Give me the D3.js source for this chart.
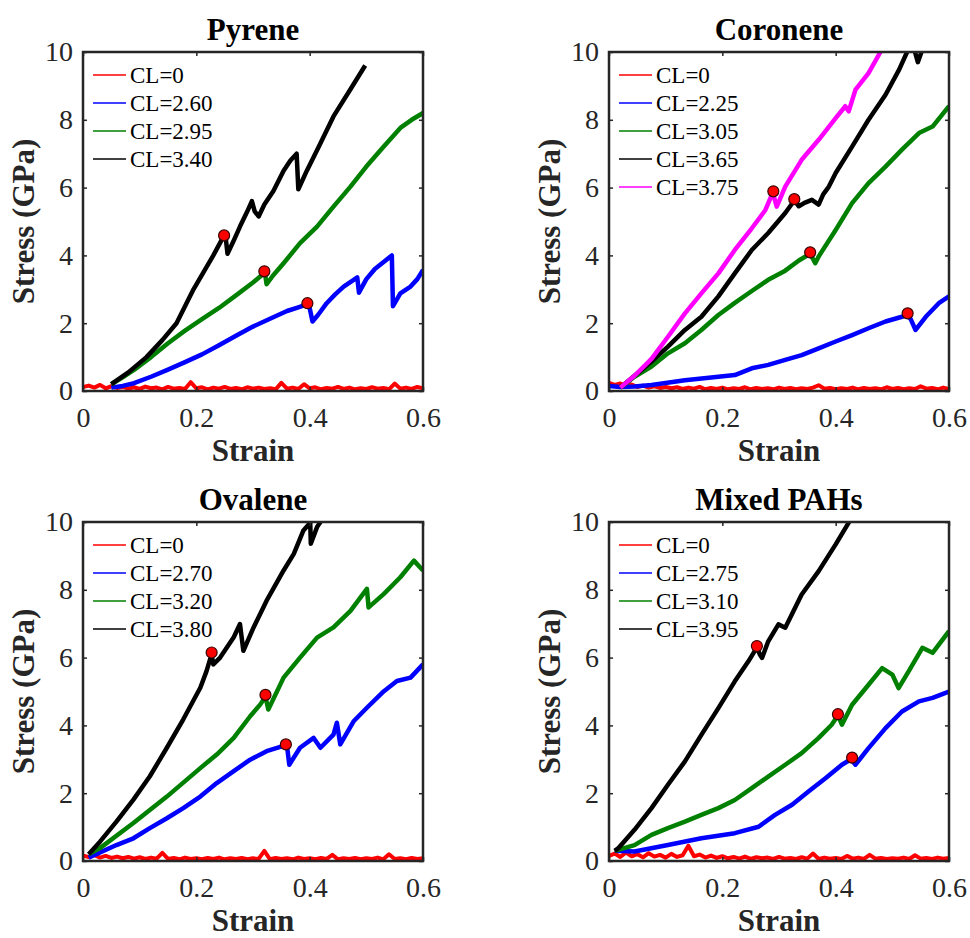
<!DOCTYPE html>
<html>
<head>
<meta charset="utf-8">
<script src="https://cdn.jsdelivr.net/npm/d3@7/dist/d3.min.js"></script>
<style>
  html, body { margin: 0; padding: 0; background: #fff; }
  svg { display: block; }
</style>
</head>
<body>
<svg id="chart" width="970" height="938"></svg>
<script>
// ---- Axis ticks ----
const strainTicks = [0, 0.2, 0.4, 0.6];
const stressTicks = [0, 2, 4, 6, 8, 10];

// ---- Panel titles and legend labels ----
const panelTitles = ["Pyrene", "Coronene", "Ovalene", "Mixed PAHs"];
const pyreneLabels   = ["CL=0", "CL=2.60", "CL=2.95", "CL=3.40"];
const coroneneLabels = ["CL=0", "CL=2.25", "CL=3.05", "CL=3.65", "CL=3.75"];
const ovaleneLabels  = ["CL=0", "CL=2.70", "CL=3.20", "CL=3.80"];
const mixedLabels    = ["CL=0", "CL=2.75", "CL=3.10", "CL=3.95"];

// ---- Unloaded reference (CL=0): stress sampled every 0.01 strain ----
const pyreneCL0 = [0.12,0.16,0.10,0.18,0.08,0.14,0.09,0.12,0.07,0.11,0.06,0.13,0.08,0.10,0.05,0.12,0.07,0.09,0.06,0.26,0.08,0.11,0.05,0.10,0.07,0.12,0.06,0.09,0.05,0.11,0.07,0.10,0.06,0.08,0.05,0.24,0.07,0.10,0.06,0.20,0.08,0.11,0.05,0.09,0.07,0.12,0.06,0.10,0.05,0.08,0.06,0.11,0.07,0.09,0.05,0.22,0.07,0.10,0.06,0.12,0.08];
const coroneneCL0 = [0.24,0.18,0.22,0.15,0.19,0.12,0.16,0.10,0.14,0.09,0.12,0.08,0.11,0.06,0.10,0.07,0.12,0.05,0.09,0.06,0.10,0.05,0.08,0.06,0.11,0.05,0.09,0.06,0.08,0.05,0.10,0.06,0.09,0.05,0.08,0.06,0.10,0.17,0.07,0.09,0.05,0.08,0.06,0.10,0.05,0.09,0.06,0.08,0.05,0.11,0.06,0.09,0.05,0.08,0.06,0.14,0.07,0.09,0.05,0.10,0.06];
const ovaleneCL0 = [0.16,0.12,0.18,0.10,0.15,0.09,0.13,0.08,0.12,0.07,0.11,0.06,0.10,0.07,0.24,0.06,0.09,0.05,0.10,0.06,0.08,0.05,0.09,0.06,0.10,0.05,0.08,0.06,0.09,0.05,0.08,0.06,0.30,0.05,0.09,0.06,0.08,0.05,0.10,0.06,0.08,0.05,0.09,0.06,0.18,0.05,0.08,0.06,0.09,0.05,0.08,0.06,0.10,0.05,0.20,0.06,0.08,0.05,0.09,0.06,0.08];
const mixedCL0 = [0.15,0.22,0.12,0.25,0.14,0.20,0.11,0.23,0.13,0.18,0.10,0.21,0.12,0.17,0.45,0.14,0.19,0.10,0.16,0.09,0.14,0.08,0.12,0.07,0.13,0.06,0.11,0.08,0.10,0.06,0.12,0.07,0.09,0.06,0.11,0.07,0.22,0.06,0.10,0.07,0.09,0.06,0.15,0.07,0.10,0.06,0.18,0.07,0.09,0.06,0.08,0.07,0.10,0.06,0.17,0.07,0.09,0.06,0.10,0.07,0.09];

// ---- Cross-linked curves: [strain, stress (GPa)] ----
const pyreneCL260 = [[0.05,0.1],[0.07,0.15],[0.09,0.23],[0.12,0.42],[0.15,0.63],[0.18,0.85],[0.21,1.08],[0.24,1.35],[0.27,1.63],[0.30,1.9],[0.33,2.13],[0.36,2.36],[0.38,2.47],[0.394,2.55],[0.40,2.45],[0.405,2.05],[0.415,2.25],[0.43,2.59],[0.445,2.85],[0.46,3.08],[0.475,3.25],[0.484,3.35],[0.487,2.9],[0.50,3.3],[0.515,3.6],[0.53,3.8],[0.545,4.0],[0.547,2.5],[0.56,2.88],[0.578,3.08],[0.59,3.3],[0.60,3.57]];
const pyreneCL295 = [[0.05,0.2],[0.07,0.4],[0.09,0.62],[0.12,1.0],[0.15,1.41],[0.18,1.78],[0.21,2.12],[0.24,2.45],[0.27,2.82],[0.30,3.2],[0.318,3.45],[0.321,3.5],[0.324,3.15],[0.335,3.4],[0.354,3.77],[0.383,4.36],[0.413,4.85],[0.442,5.44],[0.472,6.03],[0.50,6.62],[0.53,7.2],[0.56,7.76],[0.58,8.0],[0.60,8.2]];
const pyreneCL340 = [[0.05,0.2],[0.08,0.55],[0.112,1.0],[0.14,1.5],[0.165,2.0],[0.195,3.0],[0.23,4.0],[0.249,4.59],[0.252,4.5],[0.255,4.05],[0.265,4.4],[0.277,4.85],[0.29,5.3],[0.298,5.6],[0.303,5.3],[0.31,5.15],[0.32,5.5],[0.336,5.9],[0.354,6.5],[0.366,6.8],[0.377,7.0],[0.38,5.95],[0.395,6.5],[0.413,7.1],[0.442,8.1],[0.472,8.9],[0.498,9.6]];

const coroneneCL225 = [[0.0,0.15],[0.02,0.12],[0.045,0.13],[0.075,0.18],[0.134,0.32],[0.193,0.42],[0.222,0.47],[0.252,0.67],[0.281,0.77],[0.311,0.92],[0.34,1.06],[0.37,1.26],[0.40,1.46],[0.429,1.65],[0.458,1.85],[0.488,2.05],[0.517,2.19],[0.527,2.25],[0.533,2.1],[0.541,1.8],[0.559,2.19],[0.582,2.59],[0.60,2.79]];
const coroneneCL305 = [[0.02,0.1],[0.045,0.42],[0.075,0.72],[0.104,1.11],[0.134,1.41],[0.163,1.8],[0.193,2.24],[0.222,2.6],[0.252,2.95],[0.281,3.28],[0.311,3.55],[0.335,3.85],[0.355,4.05],[0.364,3.77],[0.37,3.97],[0.40,4.75],[0.429,5.54],[0.458,6.13],[0.488,6.62],[0.517,7.12],[0.547,7.61],[0.571,7.8],[0.60,8.4]];
const coroneneCL365 = [[0.02,0.1],[0.045,0.45],[0.075,0.87],[0.104,1.31],[0.134,1.8],[0.163,2.19],[0.193,2.79],[0.222,3.47],[0.252,4.16],[0.281,4.66],[0.311,5.25],[0.327,5.62],[0.335,5.45],[0.345,5.55],[0.358,5.64],[0.37,5.5],[0.378,5.8],[0.388,6.03],[0.40,6.43],[0.429,7.21],[0.458,8.0],[0.488,8.74],[0.512,9.48],[0.526,10.0],[0.535,10.3],[0.545,9.7],[0.56,10.4]];
const coroneneCL375 = [[0.02,0.1],[0.045,0.45],[0.075,0.95],[0.104,1.6],[0.134,2.29],[0.163,2.88],[0.193,3.47],[0.222,4.16],[0.252,4.8],[0.276,5.34],[0.289,5.85],[0.296,5.44],[0.311,6.03],[0.34,6.82],[0.37,7.41],[0.40,8.05],[0.417,8.4],[0.423,8.25],[0.435,8.89],[0.458,9.38],[0.479,10.0],[0.49,10.3]];

const ovaleneCL270 = [[0.01,0.1],[0.059,0.47],[0.089,0.67],[0.118,0.97],[0.148,1.26],[0.177,1.56],[0.207,1.9],[0.236,2.3],[0.266,2.65],[0.295,2.99],[0.324,3.24],[0.351,3.38],[0.360,3.4],[0.364,2.84],[0.383,3.34],[0.407,3.63],[0.419,3.34],[0.442,3.73],[0.448,4.08],[0.454,3.44],[0.478,4.13],[0.501,4.52],[0.531,5.01],[0.554,5.31],[0.578,5.41],[0.60,5.8]];
const ovaleneCL320 = [[0.01,0.2],[0.03,0.38],[0.089,1.12],[0.148,1.9],[0.207,2.74],[0.236,3.14],[0.266,3.63],[0.295,4.27],[0.313,4.62],[0.322,4.85],[0.327,4.47],[0.354,5.41],[0.383,6.0],[0.413,6.59],[0.442,6.89],[0.472,7.38],[0.501,8.03],[0.504,7.48],[0.531,7.88],[0.56,8.37],[0.584,8.86],[0.60,8.57]];
const ovaleneCL380 = [[0.01,0.2],[0.03,0.57],[0.059,1.16],[0.089,1.81],[0.118,2.5],[0.148,3.34],[0.177,4.18],[0.207,5.11],[0.218,5.6],[0.227,6.1],[0.230,5.8],[0.242,6.0],[0.266,6.6],[0.277,6.99],[0.283,6.2],[0.301,6.89],[0.324,7.68],[0.354,8.57],[0.372,9.06],[0.389,9.75],[0.401,9.98],[0.402,9.36],[0.413,9.85],[0.419,10.0],[0.425,10.3]];

const mixedCL275 = [[0.01,0.3],[0.045,0.28],[0.104,0.47],[0.163,0.67],[0.222,0.82],[0.264,1.01],[0.293,1.36],[0.323,1.66],[0.352,2.05],[0.382,2.44],[0.411,2.84],[0.427,3.0],[0.435,2.84],[0.458,3.33],[0.488,3.92],[0.517,4.41],[0.547,4.71],[0.571,4.81],[0.60,5.0]];
const mixedCL310 = [[0.01,0.3],[0.045,0.47],[0.075,0.77],[0.104,0.97],[0.134,1.16],[0.163,1.36],[0.193,1.56],[0.222,1.8],[0.252,2.15],[0.281,2.49],[0.311,2.84],[0.34,3.18],[0.37,3.63],[0.393,4.02],[0.404,4.3],[0.411,4.02],[0.429,4.61],[0.458,5.2],[0.482,5.69],[0.50,5.5],[0.511,5.1],[0.529,5.6],[0.553,6.29],[0.571,6.14],[0.60,6.78]];
const mixedCL395 = [[0.01,0.3],[0.016,0.37],[0.045,0.92],[0.075,1.56],[0.104,2.25],[0.134,2.94],[0.163,3.72],[0.193,4.51],[0.222,5.3],[0.246,5.89],[0.261,6.3],[0.266,6.1],[0.27,5.99],[0.281,6.48],[0.299,6.98],[0.311,6.88],[0.34,7.86],[0.37,8.55],[0.40,9.34],[0.423,9.98],[0.43,10.2]];

// ---- Failure onset points: [strain, stress (GPa)] ----
const pyreneOnsets   = [[0.249,4.59],[0.320,3.53],[0.396,2.59]];
const coroneneOnsets = [[0.290,5.89],[0.327,5.66],[0.355,4.09],[0.527,2.29]];
const ovaleneOnsets  = [[0.227,6.15],[0.322,4.90],[0.358,3.44]];
const mixedOnsets    = [[0.261,6.34],[0.404,4.33],[0.429,3.05]];

// ---- Line colours, in legend order ----
const seriesColors = ["#ff0000", "#0000ff", "#008000", "#000000", "#ff00ff"];

const toPairs = vals => vals.map((v, i) => [i * 0.01, v]);

const panels = [
  { title: panelTitles[0], labels: pyreneLabels,   series: [toPairs(pyreneCL0), pyreneCL260, pyreneCL295, pyreneCL340], onsets: pyreneOnsets,   left: 83,  top: 52 },
  { title: panelTitles[1], labels: coroneneLabels, series: [toPairs(coroneneCL0), coroneneCL225, coroneneCL305, coroneneCL365, coroneneCL375], onsets: coroneneOnsets, left: 609, top: 52 },
  { title: panelTitles[2], labels: ovaleneLabels,  series: [toPairs(ovaleneCL0), ovaleneCL270, ovaleneCL320, ovaleneCL380], onsets: ovaleneOnsets,  left: 83,  top: 522 },
  { title: panelTitles[3], labels: mixedLabels,    series: [toPairs(mixedCL0), mixedCL275, mixedCL310, mixedCL395], onsets: mixedOnsets,    left: 609, top: 522 }
];

const W = 340, H = 339;
const serif = "Liberation Serif, Times New Roman, serif";
const axisGray = "#262626";
const svg = d3.select("#chart");
svg.append("rect").attr("width", 970).attr("height", 938).attr("fill", "#fff");

panels.forEach((p, pi) => {
  const g = svg.append("g").attr("transform", `translate(${p.left},${p.top})`);
  const x = d3.scaleLinear().domain([0, 0.6]).range([0, W]);
  const y = d3.scaleLinear().domain([0, 10]).range([H, 0]);

  const clipId = "clip" + pi;
  g.append("clipPath").attr("id", clipId)
    .append("rect").attr("x", 0).attr("y", 0).attr("width", W).attr("height", H);

  // curves
  const line = d3.line().x(d => x(d[0])).y(d => y(d[1]));
  const plot = g.append("g").attr("clip-path", `url(#${clipId})`);
  p.series.forEach((s, si) => {
    plot.append("path")
      .datum(s)
      .attr("d", line)
      .attr("fill", "none")
      .attr("stroke", seriesColors[si])
      .attr("stroke-width", si === 0 ? 4 : 4.5)
      .attr("stroke-linejoin", "round");
  });

  // failure onset markers
  plot.selectAll("circle.onset").data(p.onsets).enter()
    .append("circle").attr("class", "onset")
    .attr("cx", d => x(d[0])).attr("cy", d => y(d[1]))
    .attr("r", 5.5)
    .attr("fill", "#ff0000")
    .attr("stroke", "#3a0000").attr("stroke-width", 1.2);

  // axes with inward ticks
  const xb = g.append("g").attr("transform", `translate(0,${H})`)
    .call(d3.axisBottom(x).tickValues(strainTicks).tickFormat(d3.format("")).tickSizeInner(-4).tickSizeOuter(0).tickPadding(16));
  const yl = g.append("g")
    .call(d3.axisLeft(y).tickValues(stressTicks).tickFormat(d3.format("")).tickSizeInner(-4).tickSizeOuter(0).tickPadding(10));
  const xt = g.append("g")
    .call(d3.axisTop(x).tickValues(strainTicks).tickFormat("").tickSizeInner(-4).tickSizeOuter(0));
  const yr = g.append("g").attr("transform", `translate(${W},0)`)
    .call(d3.axisRight(y).tickValues(stressTicks).tickFormat("").tickSizeInner(-4).tickSizeOuter(0));
  [xb, yl, xt, yr].forEach(a => {
    a.attr("font-family", serif).attr("font-size", 28);
    a.select(".domain").remove();
    a.selectAll("line").attr("stroke", axisGray).attr("stroke-width", 1.5);
    a.selectAll("text").attr("font-family", serif).attr("font-size", 28).attr("fill", axisGray);
  });

  // frame
  g.append("rect").attr("x", 0).attr("y", 0).attr("width", W).attr("height", H)
    .attr("fill", "none").attr("stroke", axisGray).attr("stroke-width", 2.5);

  // title
  g.append("text").attr("x", W / 2).attr("y", -12)
    .attr("text-anchor", "middle").attr("font-family", serif)
    .attr("font-weight", "bold").attr("font-size", 31).attr("fill", "#000")
    .text(p.title);

  // axis labels
  g.append("text").attr("x", W / 2).attr("y", H + 70)
    .attr("text-anchor", "middle").attr("font-family", serif)
    .attr("font-weight", "bold").attr("font-size", 31).attr("fill", axisGray)
    .text("Strain");
  g.append("text").attr("transform", `translate(-49,${H / 2}) rotate(-90)`)
    .attr("text-anchor", "middle").attr("font-family", serif)
    .attr("font-weight", "bold").attr("font-size", 31).attr("fill", axisGray)
    .text("Stress (GPa)");

  // legend
  const lg = g.append("g");
  p.labels.forEach((lab, li) => {
    const ry = 23 + li * 28;
    lg.append("line").attr("x1", 10).attr("x2", 43).attr("y1", ry).attr("y2", ry)
      .attr("stroke", seriesColors[li]).attr("stroke-width", 1.6);
    lg.append("text").attr("x", 47).attr("y", ry + 8)
      .attr("font-family", serif).attr("font-size", 23).attr("fill", "#000")
      .text(lab);
  });
});
</script>
</body>
</html>
